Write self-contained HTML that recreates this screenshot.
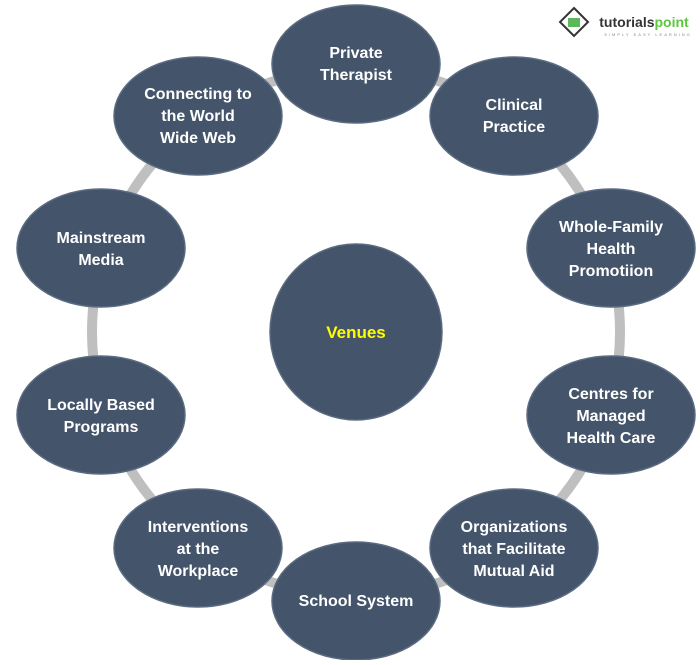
<!DOCTYPE html>
<html><head><style>body{margin:0;background:#fff}svg text{font-family:"Liberation Sans",sans-serif;font-weight:bold;font-size:16px;fill:#fff;text-anchor:middle}</style></head>
<body>
<svg width="700" height="660" viewBox="0 0 700 660" xmlns="http://www.w3.org/2000/svg">
<circle cx="356" cy="332" r="264" fill="none" stroke="#bfbfbf" stroke-width="10"/>
<g fill="#44546a" stroke="#5b6b82" stroke-width="1.5">
<ellipse cx="356" cy="64" rx="84" ry="59"/>
<ellipse cx="514" cy="116" rx="84" ry="59"/>
<ellipse cx="611" cy="248" rx="84" ry="59"/>
<ellipse cx="611" cy="415" rx="84" ry="59"/>
<ellipse cx="514" cy="548" rx="84" ry="59"/>
<ellipse cx="356" cy="601" rx="84" ry="59"/>
<ellipse cx="198" cy="548" rx="84" ry="59"/>
<ellipse cx="101" cy="415" rx="84" ry="59"/>
<ellipse cx="101" cy="248" rx="84" ry="59"/>
<ellipse cx="198" cy="116" rx="84" ry="59"/>
<ellipse cx="356" cy="332" rx="86" ry="88"/>
</g>
<text x="356" y="58">Private</text><text x="356" y="80">Therapist</text>
<text x="514" y="110">Clinical</text><text x="514" y="132">Practice</text>
<text x="611" y="232">Whole-Family</text><text x="611" y="254">Health</text><text x="611" y="276">Promotiion</text>
<text x="611" y="399">Centres for</text><text x="611" y="421">Managed</text><text x="611" y="443">Health Care</text>
<text x="514" y="532">Organizations</text><text x="514" y="554">that Facilitate</text><text x="514" y="576">Mutual Aid</text>
<text x="356" y="606">School System</text>
<text x="198" y="532">Interventions</text><text x="198" y="554">at the</text><text x="198" y="576">Workplace</text>
<text x="101" y="410">Locally Based</text><text x="101" y="432">Programs</text>
<text x="101" y="243">Mainstream</text><text x="101" y="265">Media</text>
<text x="198" y="99">Connecting to</text><text x="198" y="121">the World</text><text x="198" y="143">Wide Web</text>
<text x="356" y="338" style="fill:#ffff00;font-size:17px">Venues</text>
<g transform="translate(560,8)">
<polygon points="14,0 28,14 14,28 0,14" fill="#fff" stroke="#333" stroke-width="2"/>
<rect x="8" y="10" width="12" height="9" fill="#5cb85c"/>
<text x="84" y="19" style="fill:#333;font-size:14px;font-weight:bold">tutorials<tspan style="fill:#5cc83c">point</tspan></text>
<text x="88" y="28" style="fill:#888;font-size:4px;font-weight:normal;letter-spacing:2px">SIMPLY EASY LEARNING</text>
</g>
</svg>
</body></html>
